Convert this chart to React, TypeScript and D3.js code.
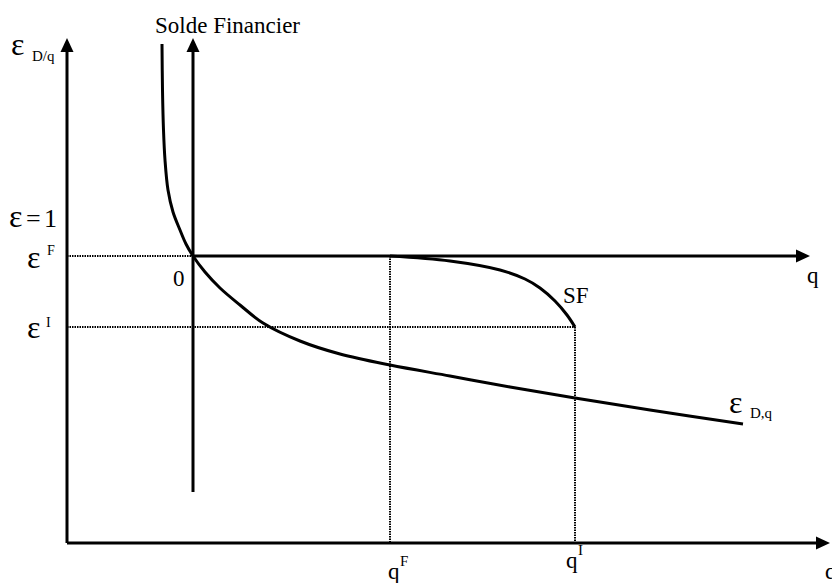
import React from "react";
import * as d3 from "d3";

// Domain limits (abstract units)
const Q_MIN = -1.26;
const Q_MAX = 6.37;
const E_MAX = 5.05;
const SOLDE_AXIS_BOTTOM = 0.51;
const Q_AXIS_END = 6.17;

// Key levels
const qF = 1.97;
const qI = 3.82;
const epsF = 2.87;
const epsI = 2.16;

// ε D,q curve
const epsCurveQ = [-0.31, -0.305, -0.295, -0.28, -0.25, -0.2, -0.13, -0.07, 0, 0.12, 0.27, 0.47, 0.7, 1.07, 1.47, 1.97, 2.57, 3.17, 3.82, 4.57, 5.5];
const epsCurveE = [4.99, 4.53, 4.13, 3.83, 3.53, 3.31, 3.13, 2.99, 2.87, 2.71, 2.55, 2.38, 2.2, 2.02, 1.89, 1.78, 1.67, 1.56, 1.45, 1.33, 1.19];

// SF curve
const sfCurveQ = [1.97, 2.57, 3.07, 3.32, 3.47, 3.62, 3.74, 3.82];
const sfCurveE = [2.87, 2.82, 2.73, 2.64, 2.55, 2.42, 2.28, 2.16];

const W = 832;
const H = 583;
const FONT = "'Liberation Serif', 'Times New Roman', serif";

const x = d3.scaleLinear().domain([Q_MIN, Q_MAX]).range([67, 830]);
const y = d3.scaleLinear().domain([0, E_MAX]).range([543, 38]);

const line = d3
  .line<[number, number]>()
  .x((d) => x(d[0]))
  .y((d) => y(d[1]))
  .curve(d3.curveCatmullRom.alpha(0.5));

function Arrow({ x1, y1, x2, y2 }: { x1: number; y1: number; x2: number; y2: number }) {
  const len = 14;
  const hw = 6.5;
  const dx = x2 - x1;
  const dy = y2 - y1;
  const d = Math.hypot(dx, dy);
  const ux = dx / d;
  const uy = dy / d;
  const bx = x2 - ux * len;
  const by = y2 - uy * len;
  const px = -uy * hw;
  const py = ux * hw;
  return (
    <g>
      <line x1={x1} y1={y1} x2={bx + ux} y2={by + uy} stroke="#000" strokeWidth={3} />
      <polygon points={`${x2},${y2} ${bx + px},${by + py} ${bx - px},${by - py}`} fill="#000" />
    </g>
  );
}

export default function App() {
  const epsPts: [number, number][] = epsCurveQ.map((q, i) => [q, epsCurveE[i]]);
  const sfPts: [number, number][] = sfCurveQ.map((q, i) => [q, sfCurveE[i]]);
  const dotted = { stroke: "#000", strokeWidth: 2, strokeDasharray: "1.5 1" };
  return (
    <svg
      width={W}
      height={H}
      style={{ position: "fixed", left: 0, top: 0, background: "#fff" }}
      fontFamily={FONT}
    >
      {/* dotted guides */}
      <line x1={x(Q_MIN)} x2={x(0)} y1={y(epsF)} y2={y(epsF)} {...dotted} />
      <line x1={x(Q_MIN)} x2={x(qI)} y1={y(epsI)} y2={y(epsI)} {...dotted} />
      <line x1={x(qF)} x2={x(qF)} y1={y(epsF)} y2={y(0)} {...dotted} />
      <line x1={x(qI)} x2={x(qI)} y1={y(epsI)} y2={y(0)} {...dotted} />

      {/* axes */}
      <Arrow x1={x(Q_MIN)} y1={y(0)} x2={x(Q_MIN)} y2={y(E_MAX)} />
      <Arrow x1={x(Q_MIN)} y1={y(0)} x2={x(Q_MAX)} y2={y(0)} />
      <Arrow x1={x(0)} y1={y(SOLDE_AXIS_BOTTOM)} x2={x(0)} y2={y(E_MAX)} />
      <Arrow x1={x(0)} y1={y(epsF)} x2={x(Q_AXIS_END)} y2={y(epsF)} />

      {/* curves */}
      <path d={line(epsPts) || ""} fill="none" stroke="#000" strokeWidth={3} />
      <path d={line(sfPts) || ""} fill="none" stroke="#000" strokeWidth={3} />

      {/* labels */}
      <text x={155} y={33} fontSize={23}>Solde Financier</text>

      <text x={11} y={55} fontSize={32}>ε</text>
      <text x={32} y={61} fontSize={15}>D/q</text>

      <text x={9} y={227} fontSize={32}>ε</text>
      <text x={26} y={227} fontSize={26}>=</text>
      <text x={44} y={227} fontSize={26}>1</text>

      <text x={27} y={268} fontSize={32}>ε</text>
      <text x={47} y={255} fontSize={14}>F</text>

      <text x={27} y={338} fontSize={32}>ε</text>
      <text x={46} y={327} fontSize={14}>I</text>

      <text x={173} y={286} fontSize={23}>0</text>
      <text x={807} y={283} fontSize={23}>q</text>
      <text x={563} y={303} fontSize={23}>SF</text>

      <text x={729} y={413} fontSize={32}>ε</text>
      <text x={750} y={418} fontSize={15}>D,q</text>

      <text x={388} y={579} fontSize={23}>q</text>
      <text x={400} y={566} fontSize={15}>F</text>
      <text x={566} y={568} fontSize={23}>q</text>
      <text x={578} y={555} fontSize={15}>I</text>
      <text x={825} y={579} fontSize={23}>q</text>
    </svg>
  );
}
